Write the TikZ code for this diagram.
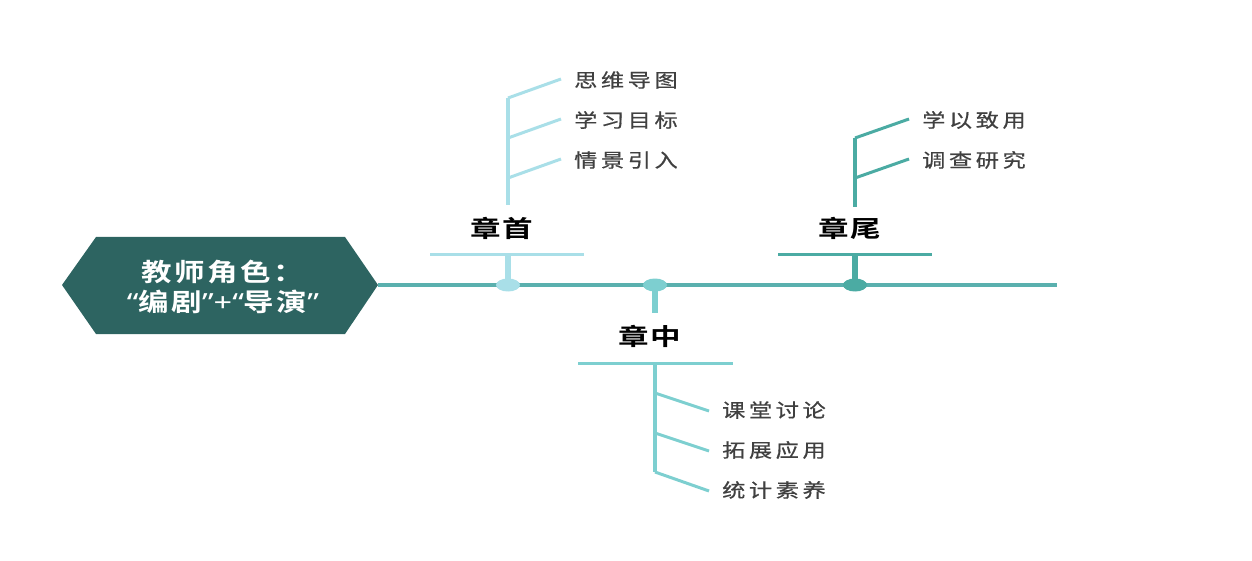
\documentclass[tikz,border=0pt]{standalone}
\usepackage{fontspec}
\usepackage{tikz}
\usetikzlibrary{positioning,shapes.geometric}
\newfontfamily\cjk[FakeStretch=1.22,LetterSpace=19,FakeBold=0.6]{Noto Sans CJK SC}
\newfontfamily\cjkhead[FakeStretch=1.3,LetterSpace=8]{Noto Sans CJK SC Bold}
\newfontfamily\cjkrole[FakeStretch=1.22,LetterSpace=10]{Noto Sans CJK SC Bold}
\newfontfamily\quotefont[FakeStretch=1.3]{Noto Sans}
\definecolor{cRole}{HTML}{2D6461}
\definecolor{cSpine}{HTML}{5AB0AE}
\definecolor{cFirst}{HTML}{A9DFE8}
\definecolor{cMid}{HTML}{7DCFD0}
\definecolor{cLast}{HTML}{4BABA3}
\definecolor{cLeaf}{HTML}{404040}
\newcommand{\qopen}{{\quotefont\bfseries\textquotedblleft}}
\newcommand{\qclose}{{\quotefont\bfseries\textquotedblright}}

\begin{document}
\begin{tikzpicture}[x=1pt, y=-1pt,
  spine/.style={line width=3.2pt, cSpine},
  twig/.style={line width=3pt},
  stem/.style={line width=5.5pt},
  dot/.style={ellipse, inner sep=0pt, minimum width=24pt, minimum height=13pt},
  head/.style={font=\cjkhead\fontsize{23.5}{26}\selectfont, text=black, inner sep=0pt},
  leaf/.style={font=\cjk\fontsize{19}{22}\selectfont, text=cLeaf, anchor=west, inner sep=0pt}]
\useasboundingbox (0,0) rectangle (1252,561);

% centre
\fill[cRole] (62,285) -- (96,237) -- (345,237) -- (378,285) -- (345,334) -- (96,334) -- cycle;
\node[font=\cjkrole\fontsize{25}{30}\selectfont, text=white, align=center, inner sep=0pt] (role) at (223,287)
  {教师角色：\\\qopen 编剧\qclose{\quotefont\bfseries +}\qopen 导演\qclose};
\coordinate (tip) at (378,285);
\coordinate (tail) at (1057,285);
\draw[spine] (tip) -- (tail);

% zhang shou
\node[dot, fill=cFirst] (d1) at (508,285) {};
\coordinate (s1) at (508,255);
\draw[stem, cFirst] (d1.center) -- (s1);
\draw[twig, cFirst] (430,255) -- (584,255);
\node[head] (h1) at (502,228) {章首};
\coordinate (t1) at (508,98);
\coordinate (t2) at (508,138);
\coordinate (t3) at (508,178);
\draw[twig, cFirst, line width=3.6pt] (t1) -- (508,205);
\node[leaf] (l1) at (574,80) {思维导图};
\node[leaf] (l2) at (574,120) {学习目标};
\node[leaf] (l3) at (574,160) {情景引入};
\draw[twig, cFirst] (t1) -- ([xshift=-13pt,yshift=1pt]l1.west);
\draw[twig, cFirst] (t2) -- ([xshift=-13pt,yshift=1pt]l2.west);
\draw[twig, cFirst] (t3) -- ([xshift=-13pt,yshift=1pt]l3.west);

% zhang zhong
\node[dot, fill=cMid] (d2) at (655,285) {};
\coordinate (s2) at (655,313);
\draw[stem, cMid] (d2.center) -- (s2);
\node[head] (h2) at (650,336) {章中};
\draw[twig, cMid] (578,363) -- (733,363);
\coordinate (m1) at (655,393);
\coordinate (m2) at (655,433);
\coordinate (m3) at (655,472);
\draw[twig, cMid, line width=3.6pt] (655,363) -- (m3);
\node[leaf] (l4) at (722,410) {课堂讨论};
\node[leaf] (l5) at (722,450) {拓展应用};
\node[leaf] (l6) at (722,490) {统计素养};
\draw[twig, cMid] (m1) -- ([xshift=-13pt,yshift=-1pt]l4.west);
\draw[twig, cMid] (m2) -- ([xshift=-13pt,yshift=-1pt]l5.west);
\draw[twig, cMid] (m3) -- ([xshift=-13pt,yshift=-1pt]l6.west);

% zhang wei
\node[dot, fill=cLast] (d3) at (855,285) {};
\coordinate (s3) at (855,255);
\draw[stem, cLast] (d3.center) -- (s3);
\draw[twig, cLast] (778,255) -- (932,255);
\node[head] (h3) at (850,228) {章尾};
\coordinate (r1) at (855,138);
\coordinate (r2) at (855,178);
\draw[twig, cLast, line width=3.6pt] (r1) -- (855,207);
\node[leaf] (l7) at (922,120) {学以致用};
\node[leaf] (l8) at (922,160) {调查研究};
\draw[twig, cLast] (r1) -- ([xshift=-13pt,yshift=1pt]l7.west);
\draw[twig, cLast] (r2) -- ([xshift=-13pt,yshift=1pt]l8.west);
\end{tikzpicture}
\end{document}
